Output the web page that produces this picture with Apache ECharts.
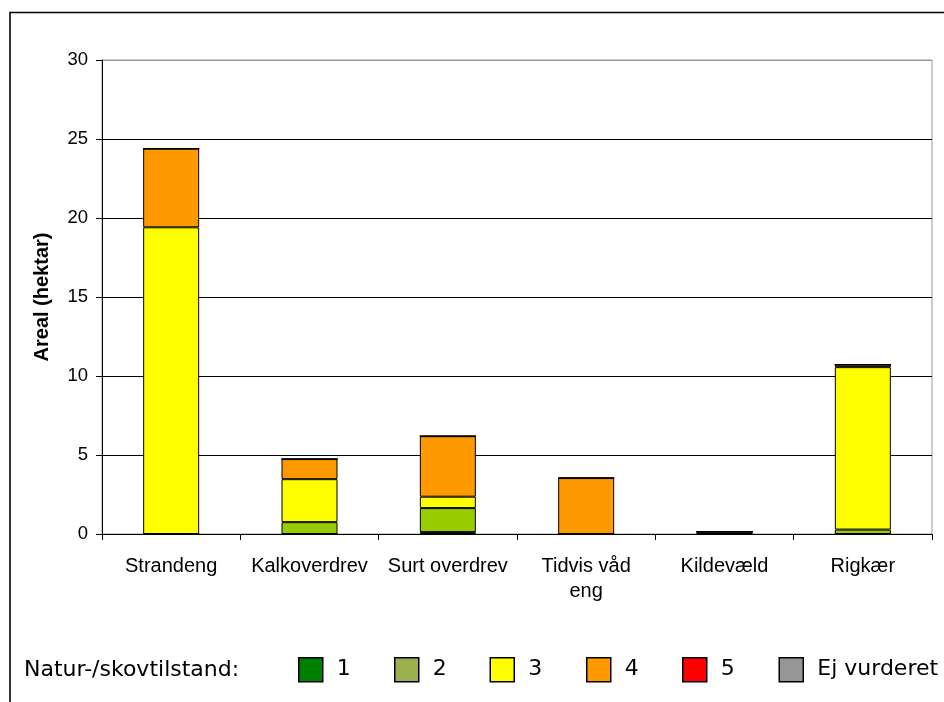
<!DOCTYPE html>
<html>
<head>
<meta charset="utf-8">
<script src="https://cdn.jsdelivr.net/npm/echarts@6/dist/echarts.min.js"></script>
<style>html,body{margin:0;padding:0;background:#fff;}#c{width:944px;height:702px;}</style>
</head>
<body>
<div id="c"></div>
<script>
const categories = ['Strandeng', 'Kalkoverdrev', 'Surt overdrev', 'Tidvis våd\neng', 'Kildevæld', 'Rigkær'];
const seriesNames = ['1', '2', '3', '4', '5', 'Ej vurderet'];
const s1 = [0, 0, 0.12, 0, 0, 0];
const s2 = [0, 0.75, 1.52, 0, 0.15, 0.28];
const s3 = [19.41, 2.72, 0.72, 0, 0, 10.28];
const s4 = [4.98, 1.27, 3.83, 3.54, 0, 0.16];
const s5 = [0, 0, 0, 0, 0, 0];
const sEj = [0, 0, 0, 0, 0, 0];
const yTicks = [0, 5, 10, 15, 20, 25, 30];

const barColors = ['#008000', '#99CC00', '#FFFF00', '#FF9900', '#FF0000', '#969696'];
const legendColors = ['#008000', '#9BB150', '#FFFF00', '#FF9900', '#FF0000', '#969696'];
const values = [s1, s2, s3, s4, s5, sEj];
const legendLeft = [298, 394, 489.5, 586, 682, 778.5];

const chart = echarts.init(document.getElementById('c'));
const font = '"Liberation Sans", Arial, sans-serif';
const legFont = '"DejaVu Sans", Verdana, sans-serif';

chart.setOption({
  animation: false,
  backgroundColor: '#fff',
  grid: {left: 102, right: 12, top: 60, bottom: 168, show: true, borderColor: '#999', borderWidth: 1, backgroundColor: 'transparent'},
  graphic: [
    {type: 'rect', shape: {x: 10, y: 12.5, width: 1000, height: 1000}, style: {fill: 'none', stroke: '#000', lineWidth: 1.6}, silent: true},
    {type: 'text', x: 24, y: 670, style: {text: 'Natur-/skovtilstand:', font: '22px ' + legFont, fill: '#000', verticalAlign: 'middle', textVerticalAlign: 'middle'}}
  ],
  legend: seriesNames.map((n, i) => ({
    data: [{name: n, itemStyle: {color: legendColors[i], borderColor: '#000', borderWidth: 1.5}}],
    left: legendLeft[i], top: 657, padding: 0,
    itemWidth: 24, itemHeight: 24, itemGap: 0,
    icon: 'rect',
    selectedMode: false,
    textStyle: {fontFamily: legFont, fontSize: 22, color: '#000', padding: [0, 0, 0, 9]}
  })),
  xAxis: {
    type: 'category',
    data: categories,
    axisLine: {lineStyle: {color: '#000', width: 1}},
    axisTick: {show: true, alignWithLabel: false, length: 6, lineStyle: {color: '#000'}},
    axisLabel: {fontFamily: font, fontSize: 20, color: '#000', margin: 20, lineHeight: 25, interval: 0}
  },
  yAxis: {
    type: 'value', min: 0, max: 30, interval: 5,
    name: 'Areal (hektar)', nameLocation: 'middle', nameGap: 50, nameRotate: 90,
    nameTextStyle: {fontFamily: font, fontSize: 20, fontWeight: 'bold', color: '#000'},
    axisLine: {show: true, lineStyle: {color: '#000', width: 1}},
    axisTick: {show: true, length: 6, lineStyle: {color: '#000'}},
    axisLabel: {fontFamily: font, fontSize: 18.5, color: '#000', margin: 14,
      formatter: v => yTicks.includes(v) ? String(v) : ''},
    splitLine: {show: true, lineStyle: {color: ['#000', '#000', '#000', '#000', '#000', '#000', '#999'], width: 1}}
  },
  series: seriesNames.map((n, i) => ({
    name: n, type: 'bar', stack: 'total', barWidth: 56,
    data: values[i],
    itemStyle: {color: barColors[i], borderColor: '#000', borderWidth: 1}
  }))
});
</script>
</body>
</html>
